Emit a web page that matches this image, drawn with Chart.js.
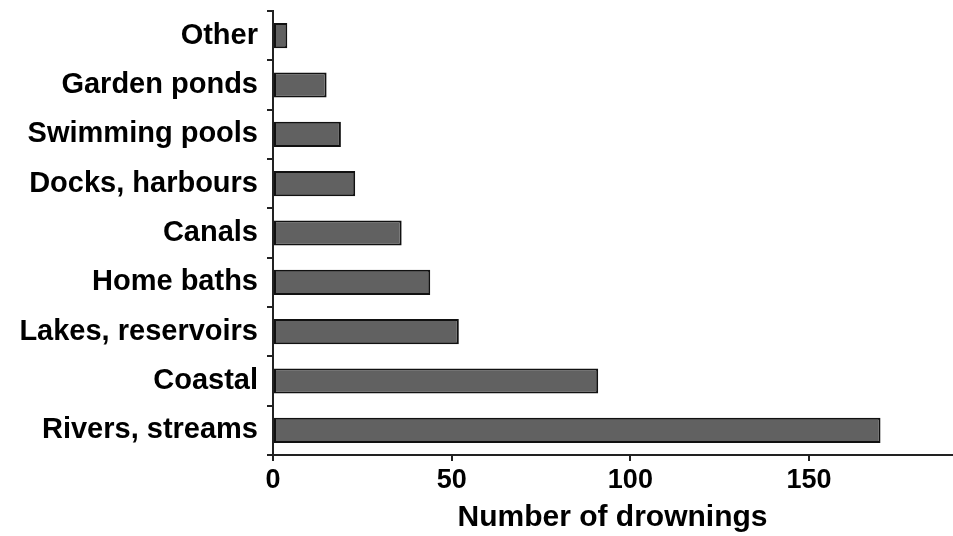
<!DOCTYPE html>
<html>
<head>
<meta charset="utf-8">
<script src="https://cdn.jsdelivr.net/npm/chart.js@4/dist/chart.umd.min.js"></script>
<style>
  html, body { margin: 0; padding: 0; background: #fff; }
  #wrap { width: 953px; height: 536px; }
</style>
</head>
<body>
<div id="wrap"><canvas id="c" width="953" height="536"></canvas></div>
<script>
// Drowning locations and counts, listed top to bottom
const categories = [
  'Other', 'Garden ponds', 'Swimming pools', 'Docks, harbours', 'Canals',
  'Home baths', 'Lakes, reservoirs', 'Coastal', 'Rivers, streams'
];
const drownings = [4, 15, 19, 23, 36, 44, 52, 91, 170];
const xTickValues = [0, 50, 100, 150];
const xMax = 190;
const xTitle = 'Number of drownings';

const FONT = '"Liberation Sans", Arial, Helvetica, sans-serif';
const AXIS = '#222';

new Chart(document.getElementById('c'), {
  type: 'bar',
  data: {
    labels: categories,
    datasets: [{
      data: drownings,
      backgroundColor: '#616161',
      borderColor: '#111',
      borderWidth: 2,
      borderSkipped: false,
      barPercentage: 0.51,
      categoryPercentage: 1.0
    }]
  },
  options: {
    indexAxis: 'y',
    responsive: false,
    animation: false,
    devicePixelRatio: 1,
    layout: { padding: { top: 11, right: 1, left: 0, bottom: 0 } },
    plugins: { legend: { display: false }, tooltip: { enabled: false } },
    scales: {
      y: {
        afterFit: (s) => { s.width = 273; s.paddingTop = 0; s.paddingBottom = 0; },
        grid: {
          display: true, drawOnChartArea: false, drawTicks: true,
          tickLength: 6, color: AXIS, lineWidth: 2, offset: true
        },
        border: { display: true, color: AXIS, width: 2 },
        ticks: {
          color: '#000', padding: 9,
          font: { family: FONT, size: 29, weight: 'bold' }
        }
      },
      x: {
        min: 0,
        max: xMax,
        afterFit: (s) => { s.height = 81; },
        afterBuildTicks: (s) => {
          s.ticks = xTickValues.map(v => ({ value: v }));
        },
        grid: {
          display: true, drawOnChartArea: false, drawTicks: true,
          tickLength: 6, color: AXIS, lineWidth: 2
        },
        border: { display: true, color: AXIS, width: 2 },
        ticks: {
          color: '#000', padding: 3, maxRotation: 0,
          font: { family: FONT, size: 27, weight: 'bold' }
        },
        title: {
          display: true, text: xTitle, color: '#000',
          padding: { top: 0, bottom: 0 },
          font: { family: FONT, size: 30, weight: 'bold' }
        }
      }
    }
  }
});
</script>
</body>
</html>
